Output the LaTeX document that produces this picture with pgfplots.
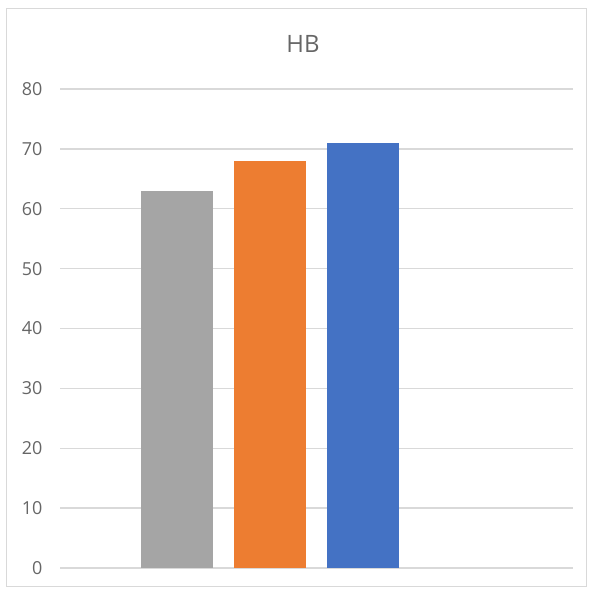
\documentclass[border=0pt]{standalone}
\usepackage{pgfplots}
\pgfplotsset{compat=1.18}
\usepackage{fontspec}
\setmainfont{Open Sans}
\definecolor{barGray}{HTML}{A5A5A5}
\definecolor{barOrange}{HTML}{ED7D31}
\definecolor{barBlue}{HTML}{4472C4}
\definecolor{gridGray}{HTML}{D9D9D9}
\definecolor{textGray}{HTML}{666666}
\definecolor{frameGray}{HTML}{D9D9D9}
\begin{document}
\begin{tikzpicture}[x=1bp,y=1bp]
\path[use as bounding box] (-60,-22) rectangle (537,568);
\draw[frameGray, line width=1bp] (-53,-19) rectangle (526,559);
\node[text=textGray, font=\fontsize{24}{28}\selectfont] at (243,524) {HB};
\begin{axis}[
  at={(0,0)}, anchor=origin,
  scale only axis,
  width=513bp, height=479bp,
  xmin=60, xmax=573,
  ymin=0, ymax=80,
  ytick={0,10,...,80},
  xtick=\empty,
  axis line style={draw=none},
  major tick length=0pt,
  ymajorgrids,
  grid style={gridGray, line width=1.3bp},
  yticklabel style={text=textGray, font=\fontsize{18}{21}\selectfont, anchor=east, inner sep=0pt, xshift=-17.5bp},
  /pgf/number format/assume math mode=true,
  bar width=72,
  ybar, bar shift=0pt,
  clip=false,
]
\addplot[fill=barGray, draw=none] coordinates {(177,63)};
\addplot[fill=barOrange, draw=none] coordinates {(270,68)};
\addplot[fill=barBlue, draw=none] coordinates {(363,71)};
\end{axis}
\end{tikzpicture}
\end{document}
